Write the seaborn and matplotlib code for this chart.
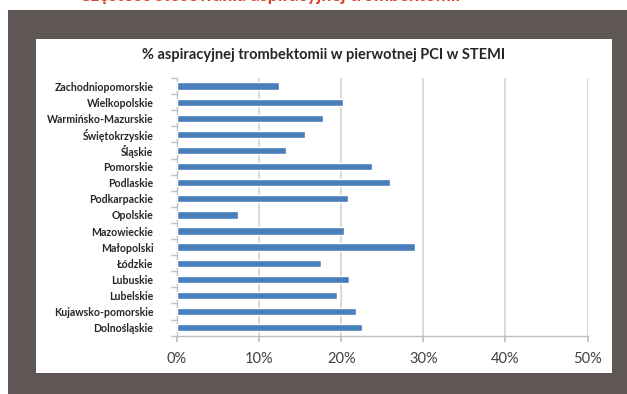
import matplotlib
matplotlib.use("Agg")
import matplotlib.pyplot as plt
from matplotlib.patches import Rectangle
from matplotlib.ticker import FuncFormatter, FixedLocator
import seaborn as sns
import pandas as pd

regions = [
    "Zachodniopomorskie", "Wielkopolskie", "Warmińsko-Mazurskie", "Świętokrzyskie",
    "Śląskie", "Pomorskie", "Podlaskie", "Podkarpackie", "Opolskie", "Mazowieckie",
    "Małopolski", "Łódzkie", "Lubuskie", "Lubelskie", "Kujawsko-pomorskie", "Dolnośląskie",
]
share = [12.4, 20.2, 17.8, 15.6, 13.3, 23.8, 26.0, 20.8, 7.4, 20.3,
         29.0, 17.5, 20.9, 19.5, 21.8, 22.5]
x_ticks = [0, 10, 20, 30, 40, 50]

chart_title = "% aspiracyjnej trombektomii w pierwotnej PCI w STEMI"
page_title = "Częstość stosowania aspiracyjnej trombektomii"

df = pd.DataFrame({"region": regions, "share": share})

sns.set_theme(style="white")
plt.rcParams["font.family"] = ["Lato", "DejaVu Sans"]

W, H = 627, 394
fig = plt.figure(figsize=(W / 100, H / 100), dpi=100)
fig.patch.set_facecolor("white")

def px_rect(x0, y0, x1, y1, color):
    fig.patches.append(Rectangle((x0 / W, 1 - y1 / H), (x1 - x0) / W, (y1 - y0) / H,
                                 transform=fig.transFigure, facecolor=color,
                                 edgecolor="none", zorder=0))

# dark frame and white chart panel
px_rect(8, 10, W, H, "#5f5755")
px_rect(36, 39, 612, 373, "white")

# red page heading, cut by the top edge
fig.text(0.43, 1 - 4 / H, page_title, ha="center", va="bottom", color="#e0402a",
         fontsize=13, fontweight="bold")

left, right, top, bottom = 177, 587.5, 78, 335.7
ax = fig.add_axes([left / W, 1 - bottom / H, (right - left) / W, (bottom - top) / H])
ax.set_zorder(5)
ax.set_facecolor("none")

sns.barplot(data=df, x="share", y="region", orient="h", color="#4a7ebb",
            width=0.45, saturation=1, ax=ax, zorder=3)

ax.set_xlim(0, 50)
ax.set_ylim(len(regions) - 0.5, -0.5)
ax.xaxis.set_major_locator(FixedLocator(x_ticks))
ax.xaxis.set_major_formatter(FuncFormatter(lambda v, p: f"{int(v)}%"))
ax.grid(axis="x", color="#d9d9d9", linewidth=1.4, zorder=0)
ax.set_axisbelow(True)

for s in ["top", "right"]:
    ax.spines[s].set_visible(False)
for s in ["left", "bottom"]:
    ax.spines[s].set_color("#bfbfbf")
    ax.spines[s].set_linewidth(1.0)

ax.set_xlabel("")
ax.set_ylabel("")
ax.tick_params(axis="x", which="major", bottom=True, length=4, color="#bfbfbf",
               labelsize=10.5, labelcolor="#404040", pad=8)
ax.tick_params(axis="y", which="major", left=False, labelsize=7.6, pad=11)
ax.yaxis.set_minor_locator(FixedLocator([i - 0.5 for i in range(len(regions) + 1)]))
ax.tick_params(axis="y", which="minor", left=True, length=4, color="#bfbfbf")
for lbl in ax.get_yticklabels():
    lbl.set_fontweight("bold")
    lbl.set_color("#262626")

t = fig.text(324 / W, 1 - 55 / H, chart_title, ha="center", va="center",
             fontsize=10.5, fontweight="bold", color="#262626")
t.set_zorder(6)

fig.savefig("out.png", dpi=100)
